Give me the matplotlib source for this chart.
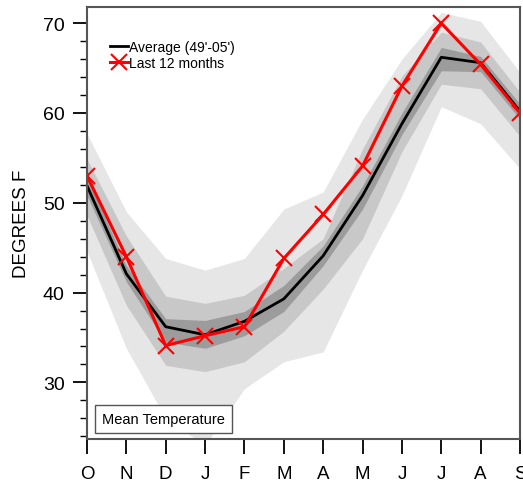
import numpy as np
import matplotlib
matplotlib.use("Agg")
from matplotlib import pyplot as plt
from matplotlib.ticker import MultipleLocator

plt.rcParams['font.family'] = ['Liberation Sans', 'DejaVu Sans']

months = ['O', 'N', 'D', 'J', 'F', 'M', 'A', 'M', 'J', 'J', 'A', 'S']

# average 49'-05'
avg = [51.9, 42.1, 36.2, 35.3, 36.8, 39.3, 44.1, 50.8, 58.8, 66.2, 65.6, 60.2]
# last 12 months
last12 = [53.0, 44.0, 34.1, 35.2, 36.2, 43.8, 48.7, 54.1, 63.0, 70.0, 65.4, 60.0]

# shaded ranges (outer, middle, inner)
light_hi = [57.7, 49.0, 43.8, 42.5, 43.8, 49.3, 51.2, 59.3, 66.0, 71.2, 70.2, 64.5]
light_lo = [44.6, 33.8, 26.0, 23.0, 29.3, 32.3, 33.4, 42.5, 50.8, 60.7, 58.8, 53.8]
mid_hi = [54.9, 46.3, 39.6, 38.8, 39.7, 42.7, 46.0, 56.0, 64.1, 69.0, 67.9, 62.3]
mid_lo = [48.6, 38.6, 31.9, 31.2, 32.3, 35.7, 40.4, 46.0, 55.7, 63.2, 62.7, 57.4]
dark_hi = [53.0, 43.0, 37.1, 36.9, 37.9, 40.8, 45.2, 51.9, 60.0, 67.3, 66.3, 61.0]
dark_lo = [50.8, 41.2, 34.5, 33.8, 35.2, 37.9, 43.0, 49.3, 57.6, 64.7, 64.6, 59.3]

x = np.arange(len(months))

fig = plt.figure(figsize=(5.23, 4.85), dpi=100)
ax = fig.add_axes([0.1663, 0.0928, 0.828, 0.8907])

ax.fill_between(x, light_lo, light_hi, color='#e6e6e6', linewidth=0, zorder=1)
ax.fill_between(x, mid_lo, mid_hi, color='#c8c8c8', linewidth=0, zorder=2)
ax.fill_between(x, dark_lo, dark_hi, color='#9c9c9c', linewidth=0, zorder=3)

ax.plot(x, avg, color='black', linewidth=2, zorder=4, label="Average (49'-05')")
ax.plot(x, last12, color='red', linewidth=2.2, marker='x', markersize=11,
        markeredgewidth=1.5, zorder=5, label='Last 12 months')

ax.set_xlim(0, 11)
ax.set_ylim(23.7, 71.8)
ax.set_xticks(x)
ax.set_xticklabels(months, fontsize=13.5)
ax.yaxis.set_major_locator(MultipleLocator(10))
ax.yaxis.set_minor_locator(MultipleLocator(2))
ax.tick_params(axis='y', which='major', length=10, width=1.3, labelsize=14, pad=6)
ax.tick_params(axis='y', which='minor', length=5, width=1)
ax.tick_params(axis='x', which='major', length=11, width=1.3, pad=8)
ax.set_ylabel('DEGREES F', fontsize=13.5, labelpad=9)

for side in ['left', 'bottom', 'top', 'right']:
    ax.spines[side].set_color('#555555')
    ax.spines[side].set_linewidth(1.5)
    ax.spines[side].set_zorder(6)

ax.legend(loc='upper left', bbox_to_anchor=(0.04, 0.937), frameon=False,
          fontsize=10, handlelength=1.3, handletextpad=0.1, labelspacing=0.15,
          borderaxespad=0)

ax.text(0.035, 0.03, 'Mean Temperature', transform=ax.transAxes, fontsize=10.5,
        va='bottom', ha='left', zorder=7,
        bbox=dict(boxstyle='square,pad=0.5', facecolor='white', edgecolor='#555555',
                  linewidth=1))

fig.savefig('out.png', dpi=100)
